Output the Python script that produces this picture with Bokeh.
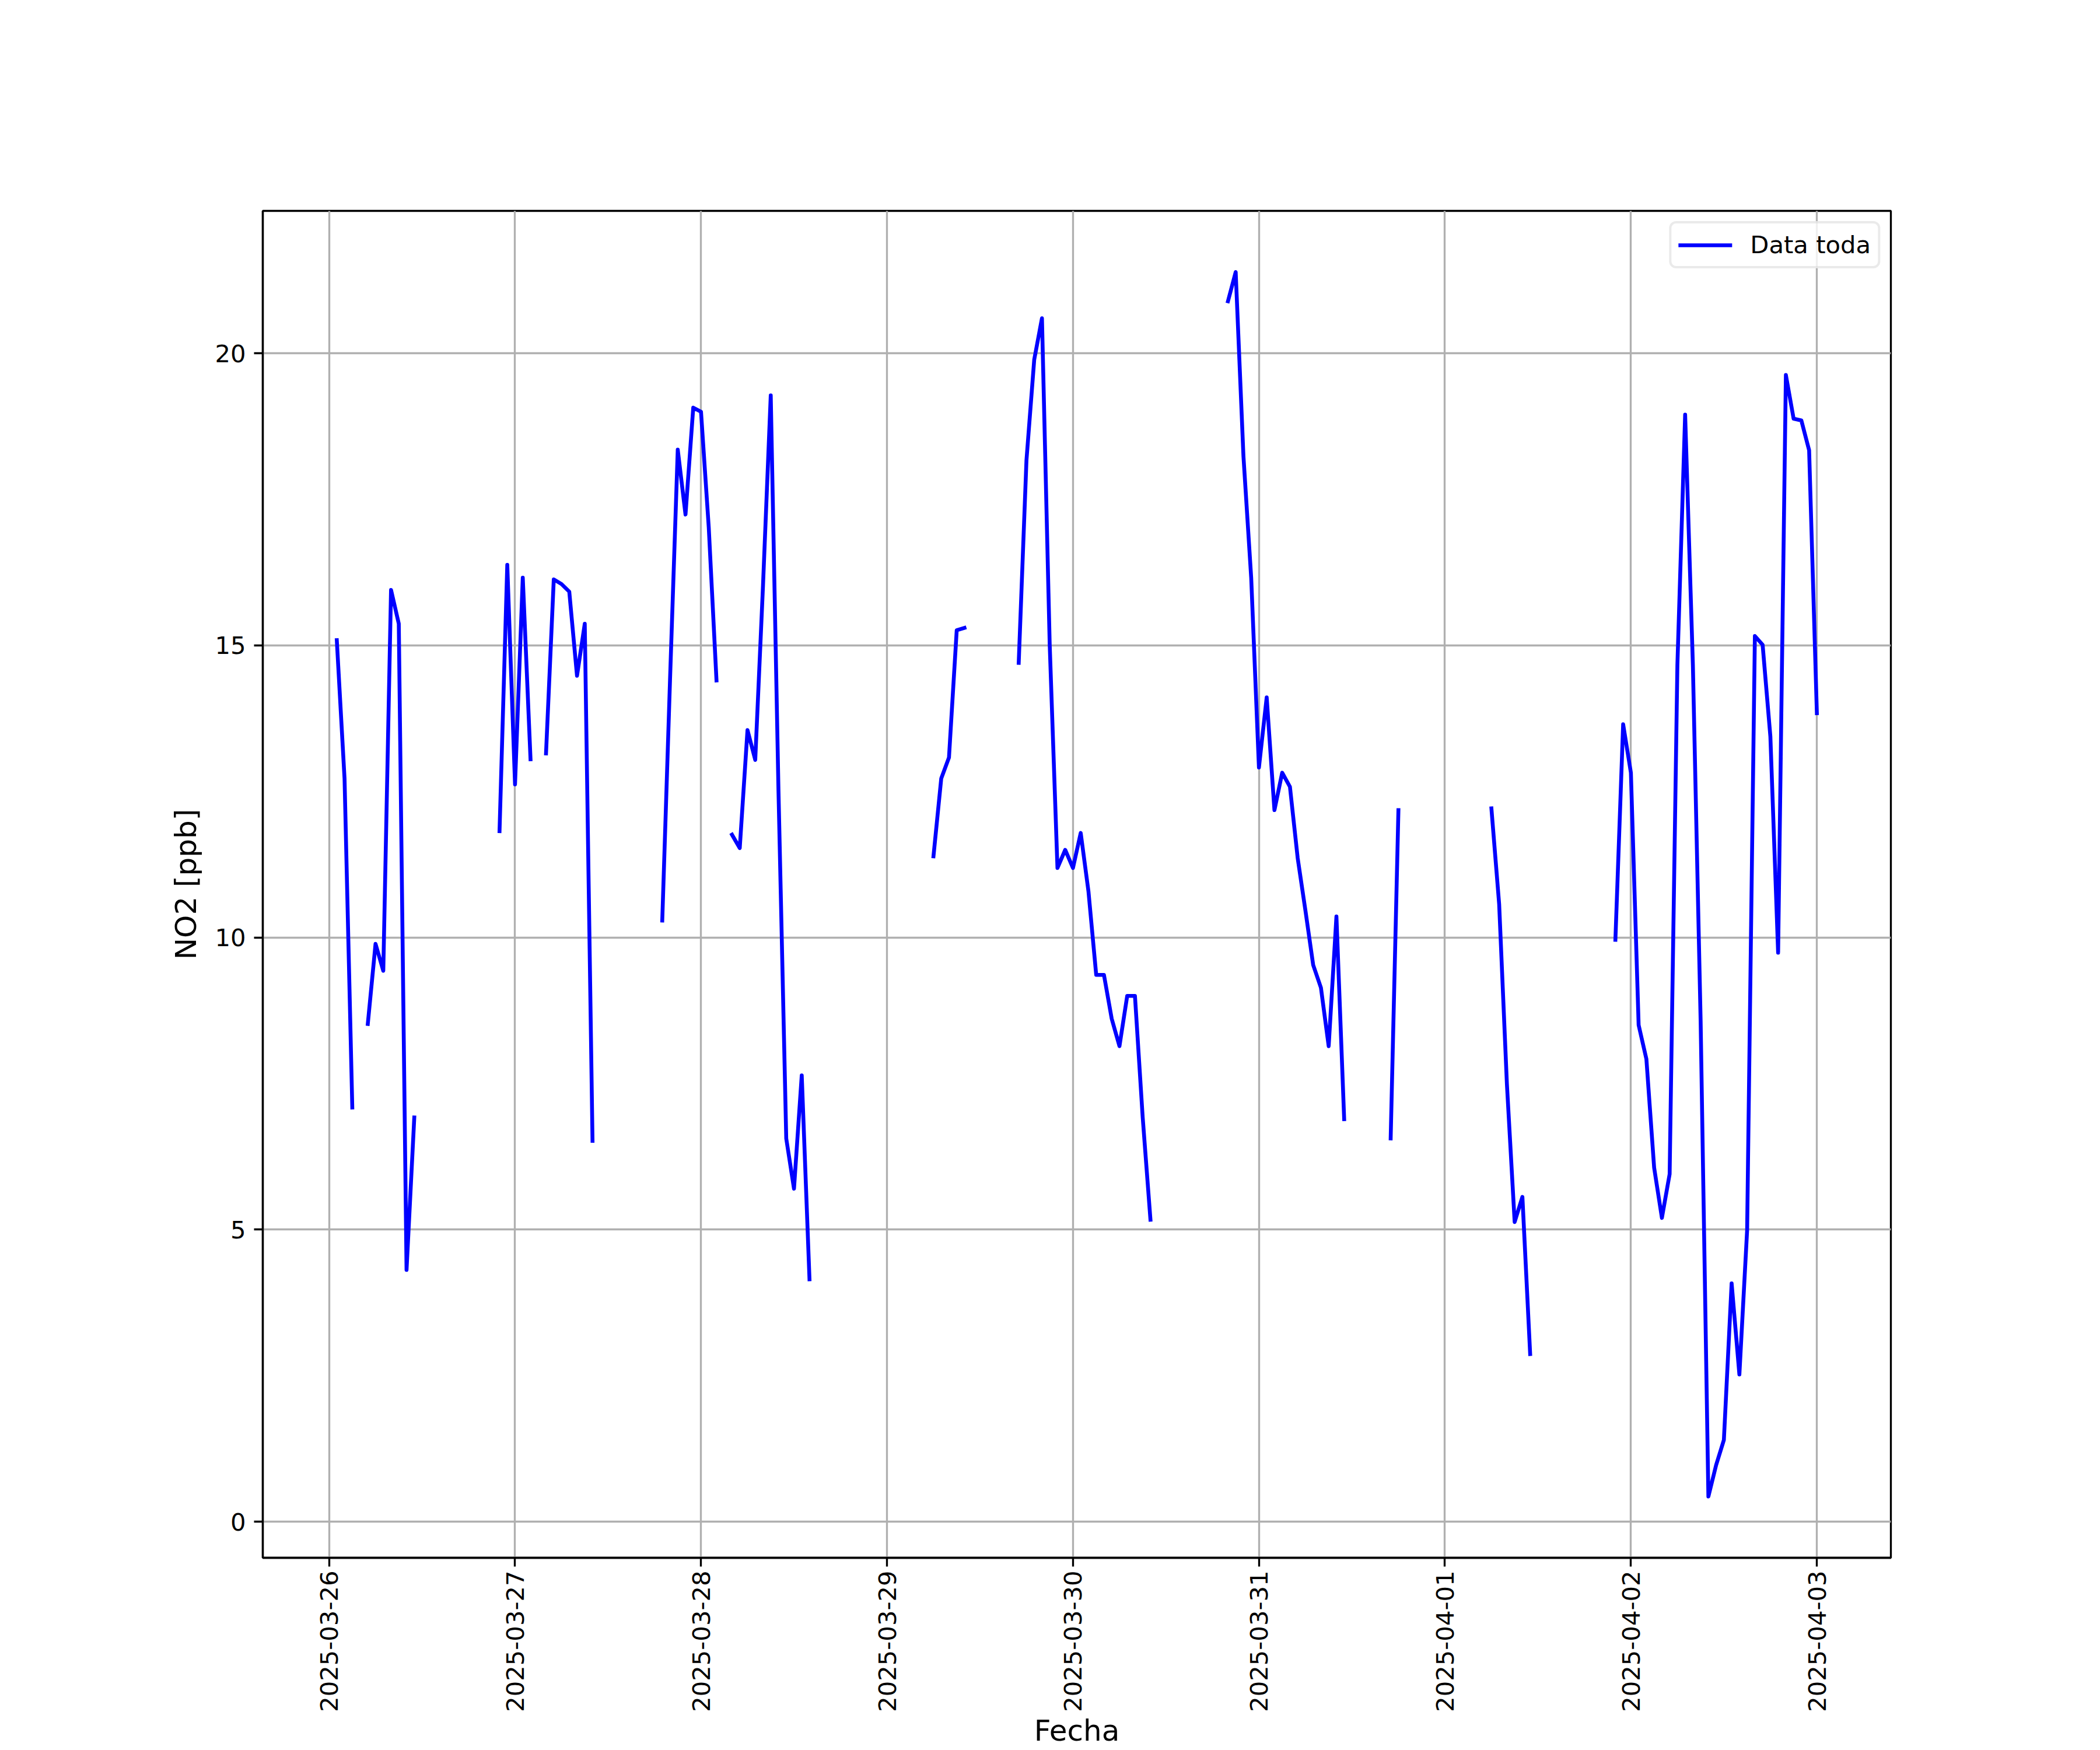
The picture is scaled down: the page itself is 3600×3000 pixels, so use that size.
import math
import numpy as np
import pandas as pd
from bokeh.plotting import figure
from bokeh.models import ColumnDataSource, Range1d, FixedTicker, DatetimeTickFormatter
from bokeh.embed import file_html
from bokeh.resources import INLINE

# ---- data (hourly NO2, gaps between segments) ----
seg_starts = [
    "2025-03-26 01:00", "2025-03-26 05:00", "2025-03-26 22:00", "2025-03-27 04:00",
    "2025-03-27 19:00", "2025-03-28 04:00", "2025-03-29 06:00", "2025-03-29 17:00",
    "2025-03-30 20:00", "2025-03-31 17:00", "2025-04-01 06:00", "2025-04-01 22:00",
]
seg1 = [15.09, 12.72, 7.09]
seg2 = [8.52, 9.89, 9.43, 15.95, 15.37, 4.31, 6.92]
seg3 = [11.82, 16.38, 12.62, 16.16, 13.05]
seg4 = [13.15, 16.13, 16.05, 15.92, 14.48, 15.37, 6.52]
seg5 = [10.29, 14.40, 18.35, 17.24, 19.07, 19.00, 17.02, 14.40]
seg6 = [11.76, 11.53, 13.55, 13.04, 16.02, 19.28, 12.50, 6.56, 5.70, 7.64, 4.15]
seg7 = [11.39, 12.72, 13.08, 15.26, 15.30]
seg8 = [14.70, 18.17, 19.89, 20.60, 15.01, 11.19, 11.50, 11.19, 11.79, 10.79,
        9.36, 9.36, 8.61, 8.14, 9.00, 9.00, 6.92, 5.17]
seg9 = [20.89, 21.39, 18.24, 16.16, 12.91, 14.11, 12.18, 12.82, 12.58, 11.36,
        10.46, 9.53, 9.14, 8.14, 10.36, 6.89]
seg10 = [6.56, 12.18]
seg11 = [12.21, 10.57, 7.49, 5.13, 5.56, 2.87]
seg12 = [9.96, 13.65, 12.82, 8.50, 7.92, 6.06, 5.20, 5.95, 14.66, 18.95, 14.66,
         8.57, 0.43, 0.97, 1.40, 4.08, 2.52, 4.99, 15.16, 15.01, 13.44, 9.74,
         19.63, 18.88, 18.85, 18.34, 13.84]
segments = [seg1, seg2, seg3, seg4, seg5, seg6, seg7, seg8, seg9, seg10, seg11, seg12]

y_ticks = [0, 5, 10, 15, 20]
day_ticks = ["2025-03-26", "2025-03-27", "2025-03-28", "2025-03-29", "2025-03-30",
             "2025-03-31", "2025-04-01", "2025-04-02", "2025-04-03"]

# ---- build the hourly series with NaN gaps ----
starts = [pd.Timestamp(s) for s in seg_starts]
t_first = starts[0]
t_last = starts[-1] + pd.Timedelta(hours=len(segments[-1]) - 1)
idx = pd.date_range(t_first, t_last, freq="h")
series = pd.Series(np.nan, index=idx)
for st, vals in zip(starts, segments):
    series.loc[pd.date_range(st, periods=len(vals), freq="h")] = vals

src = ColumnDataSource(dict(x=series.index, y=series.values))

def ms(t):
    return pd.Timestamp(t).value / 1e6

x0, x1 = ms(t_first), ms(t_last)
xs = x1 - x0
ymin, ymax = np.nanmin(series.values), np.nanmax(series.values)
ys = ymax - ymin

FONT = "DejaVu Sans"
TICK_FS = "41.7px"
LABEL_FS = "50px"

p = figure(
    frame_width=2791, frame_height=2309,
    min_border_left=450, min_border_top=361, min_border_right=343, min_border_bottom=10,
    x_axis_type="datetime",
    x_range=Range1d(x0 - 0.05 * xs, x1 + 0.05 * xs),
    y_range=Range1d(ymin - 0.05 * ys, ymax + 0.05 * ys),
    output_backend="svg", toolbar_location=None,
    background_fill_color="white", border_fill_color="white",
)

p.line("x", "y", source=src, line_color="#0000ff", line_width=6.6,
       line_join="round", line_cap="square", legend_label="Data toda")

# frame
p.outline_line_color = "black"
p.outline_line_width = 3.33
p.outline_line_alpha = 1.0

# grid
for g in (p.xgrid, p.ygrid):
    g.grid_line_color = "#b0b0b0"
    g.grid_line_width = 3.33

# axes
xa = p.xaxis[0]
ya = p.yaxis[0]
xa.ticker = FixedTicker(ticks=[ms(d) for d in day_ticks])
fmt = "%Y-%m-%d"
xa.formatter = DatetimeTickFormatter(days=fmt, months=fmt, hours=fmt, hourmin=fmt,
                                     minutes=fmt, years=fmt)
xa.major_label_orientation = math.pi / 2
ya.ticker = FixedTicker(ticks=y_ticks)

for ax in (xa, ya):
    ax.axis_line_color = "black"
    ax.axis_line_width = 3.33
    ax.major_tick_line_color = "black"
    ax.major_tick_line_width = 3.33
    ax.major_tick_out = 15
    ax.major_tick_in = 0
    ax.minor_tick_line_color = None
    ax.major_label_text_font = FONT
    ax.major_label_text_font_size = TICK_FS
    ax.major_label_text_color = "black"
    ax.axis_label_text_font = FONT
    ax.axis_label_text_font_size = LABEL_FS
    ax.axis_label_text_font_style = "normal"
    ax.axis_label_text_color = "black"

xa.major_label_standoff = 7
ya.major_label_standoff = 14
xa.axis_label = "Fecha"
xa.axis_label_standoff = 0
ya.axis_label = "NO2 [ppb]"
ya.axis_label_standoff = 17

# legend
lg = p.legend[0]
lg.location = "top_right"
lg.margin = 18
lg.padding = 12
lg.glyph_width = 92
lg.glyph_height = 40
lg.label_standoff = 31
lg.label_text_font = FONT
lg.label_text_font_size = TICK_FS
lg.label_text_color = "black"
lg.border_line_color = "#d6d6d6"
lg.border_line_width = 4
lg.background_fill_color = "white"
lg.background_fill_alpha = 0.8
try:
    lg.border_radius = 12
except Exception:
    pass

open("out.html", "w").write(file_html(p, INLINE))
